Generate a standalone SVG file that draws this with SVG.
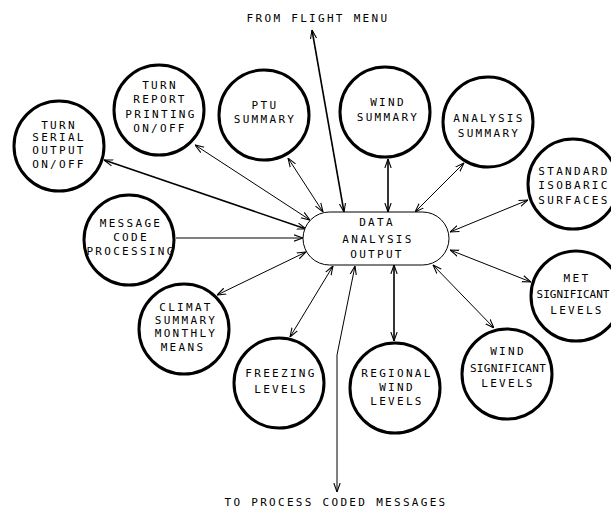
<svg xmlns="http://www.w3.org/2000/svg" width="611" height="508" viewBox="0 0 611 508">
<defs>
<style>
.bg{fill:#fff}
.node{fill:#fff;stroke:#000;stroke-width:3}
.hub{fill:#fff;stroke:#000;stroke-width:1}
text{font-family:"DejaVu Sans Mono","Liberation Mono",monospace;font-size:11px;fill:#000;text-anchor:middle;letter-spacing:2.3px}
text.sig{letter-spacing:0.3px}
text.sig2{letter-spacing:0px}
.c{fill:none;stroke:#000;stroke-width:1}
.c2{fill:none;stroke:#000;stroke-width:1.6}
.both{marker-start:url(#ah);marker-end:url(#ah)}
.end{marker-end:url(#ah)}
</style>
<marker id="ah" viewBox="0 0 10 10" refX="10" refY="5" markerWidth="9" markerHeight="9" markerUnits="userSpaceOnUse" orient="auto-start-reverse">
<path d="M0,1.5 L10,5 L0,8.5" fill="none" stroke="#000" stroke-width="1.2"/>
</marker>
</defs>
<rect class="bg" x="0" y="0" width="611" height="508"/>
<g id="connectors">
<path class="c2 both" d="M312,30 L344,212"/>
<path class="c2 both" d="M104,160 L306,229"/>
<path class="c both" d="M195,145 L310,220"/>
<path class="c both" d="M288,158 L323,212"/>
<path class="c end" d="M176,238 L303,238"/>
<path class="c2 both" d="M388,159 L388,212"/>
<path class="c both" d="M464,163 L415,212"/>
<path class="c both" d="M528,200 L450,232"/>
<path class="c both" d="M531,282 L450,250"/>
<path class="c both" d="M494,328 L433,265"/>
<path class="c2 both" d="M394,265 L394,341"/>
<path class="c both" d="M333,266 L290,337"/>
<path class="c both" d="M217,295 L306,252"/>
<path class="c both" d="M355,266 L337,355 L337,492"/>
</g>
<g id="label-from"><text x="318" y="22">FROM FLIGHT MENU</text></g>
<g id="label-to"><text x="336" y="506">TO PROCESS CODED MESSAGES</text></g>
<g id="hub">
<rect class="hub" x="303" y="212" width="146" height="53" rx="26.5" ry="26.5"/>
<text x="377" y="226">DATA</text>
<text x="378" y="243">ANALYSIS</text>
<text x="377" y="258">OUTPUT</text>
</g>
<g id="serial">
<circle class="node" cx="59" cy="146" r="45"/>
<text x="59" y="129">TURN</text>
<text x="59" y="141">SERIAL</text>
<text x="59" y="154">OUTPUT</text>
<text x="59" y="168">ON/OFF</text>
</g>
<g id="report">
<circle class="node" cx="159" cy="110" r="45"/>
<text x="160" y="89">TURN</text>
<text x="160" y="103">REPORT</text>
<text x="161" y="118">PRINTING</text>
<text x="160" y="132">ON/OFF</text>
</g>
<g id="ptu">
<circle class="node" cx="264" cy="115" r="45"/>
<text x="265" y="109">PTU</text>
<text x="265" y="123">SUMMARY</text>
</g>
<g id="windsum">
<circle class="node" cx="385" cy="112" r="45"/>
<text x="388" y="106">WIND</text>
<text x="388" y="121">SUMMARY</text>
</g>
<g id="analysis">
<circle class="node" cx="488" cy="122" r="45"/>
<text x="489" y="122">ANALYSIS</text>
<text x="489" y="137">SUMMARY</text>
</g>
<g id="standard">
<circle class="node" cx="573" cy="184" r="45"/>
<text x="574" y="175">STANDARD</text>
<text x="574" y="189">ISOBARIC</text>
<text x="574" y="204">SURFACES</text>
</g>
<g id="message">
<circle class="node" cx="129" cy="240" r="45"/>
<text x="131" y="227">MESSAGE</text>
<text x="131" y="241">CODE</text>
<text x="131" y="255">PROCESSING</text>
</g>
<g id="climat">
<circle class="node" cx="184" cy="329" r="45"/>
<text x="186" y="311">CLIMAT</text>
<text x="186" y="324">SUMMARY</text>
<text x="186" y="337">MONTHLY</text>
<text x="183" y="351">MEANS</text>
</g>
<g id="freezing">
<circle class="node" cx="279" cy="383" r="45"/>
<text x="281" y="377">FREEZING</text>
<text x="281" y="393">LEVELS</text>
</g>
<g id="regional">
<circle class="node" cx="395" cy="388" r="45"/>
<text x="397" y="377">REGIONAL</text>
<text x="397" y="391">WIND</text>
<text x="397" y="405">LEVELS</text>
</g>
<g id="windsig">
<circle class="node" cx="507" cy="374" r="45"/>
<text x="508" y="355">WIND</text>
<text class="sig" x="508" y="372">SIGNIFICANT</text>
<text x="508" y="387">LEVELS</text>
</g>
<g id="met">
<circle class="node" cx="576" cy="296" r="45"/>
<text x="577" y="282">MET</text>
<text class="sig2" x="573" y="298">SIGNIFICANT</text>
<text x="577" y="314">LEVELS</text>
</g>
</svg>
